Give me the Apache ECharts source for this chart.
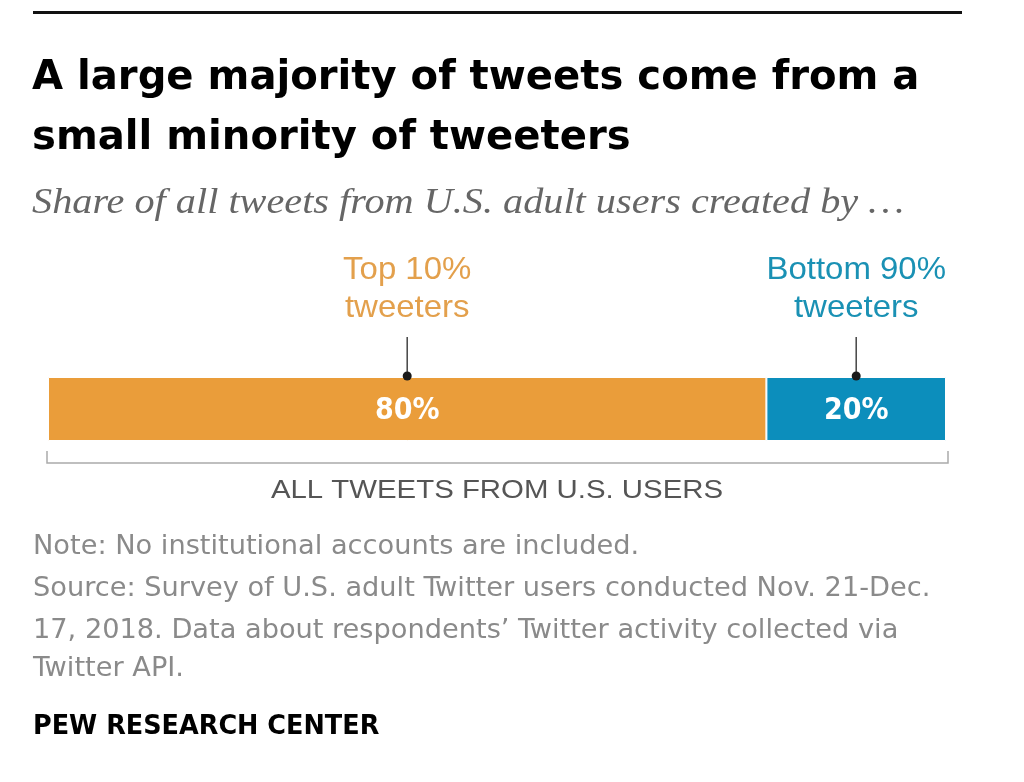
<!DOCTYPE html>
<html><head><meta charset="utf-8">
<script src="https://cdn.jsdelivr.net/npm/echarts@6/dist/echarts.min.js"></script>
<style>html,body{margin:0;padding:0;background:#fff}#c{width:1024px;height:782px}</style>
</head><body><div id="c"></div>
<script>
const categories = ['All tweets from U.S. users'];
const segmentNames = ['Top 10%\ntweeters', 'Bottom 90%\ntweeters'];
const segmentValues = [80, 20];
const segmentColors = ['#EA9D3A', '#0C8EBC'];
const labelColors = ['#E3A04C', '#1A91B4'];

const chart = echarts.init(document.getElementById('c'), null, {renderer: 'canvas'});

const narrow = '"DejaVu Sans Condensed","Liberation Sans Narrow","Liberation Sans",sans-serif';
const sans = '"Liberation Sans","Noto Sans",sans-serif';

let acc = 0;
const leaderData = segmentValues.map((v, i) => { const s = acc; acc += v; return [s, acc, i]; });

const barSeries = segmentValues.map((v, i) => ({
  type: 'bar', stack: 'total', name: segmentNames[i],
  data: [v], barWidth: '100%',
  itemStyle: {color: segmentColors[i], borderColor: '#fff', borderWidth: 1},
  label: {show: true, position: 'inside', formatter: '{c}%', color: '#fff',
          fontFamily: narrow, fontWeight: 'bold', fontSize: 30, offset: [0, 2]},
  silent: true
}));

function txt(text, x, y, font, fill, sx, align) {
  return {type: 'text', x: x, y: y, scaleX: sx || 1,
    style: {text: text, x: 0, y: 0, align: align || 'left', verticalAlign: 'middle', font: font, fill: fill}};
}

const option = {
  animation: false,
  grid: {left: 48, right: 78, top: 377, height: 64},
  xAxis: {type: 'value', min: 0, max: 100, show: false},
  yAxis: {type: 'category', data: categories, show: false},
  series: [...barSeries, {
    type: 'custom', data: leaderData, silent: true, z: 10,
    renderItem: function (params, api) {
      const mid = (api.value(0) + api.value(1)) / 2;
      const i = api.value(2);
      const p = api.coord([mid, 0]);
      const h = api.size([0, 1])[1];
      const top = p[1] - h / 2;
      return {type: 'group', children: [
        {type: 'line', shape: {x1: p[0], y1: top - 40, x2: p[0], y2: top - 1}, style: {stroke: '#444', lineWidth: 1.5}},
        {type: 'circle', shape: {cx: p[0], cy: top - 1, r: 4.5}, style: {fill: '#1a1a1a'}},
        {type: 'text', x: p[0], y: top - 88, scaleX: 1.03,
          style: {text: segmentNames[i], x: 0, y: 0, align: 'center', verticalAlign: 'middle',
          fill: labelColors[i], font: '32px ' + sans, lineHeight: 38}}
      ]};
    }
  }],
  graphic: [
    {type: 'rect', shape: {x: 33, y: 11, width: 929, height: 3}, style: {fill: '#111'}},
    txt('A large majority of tweets come from a', 32, 78, 'bold 41px ' + narrow, '#000', 1.088),
    txt('small minority of tweeters', 32, 138, 'bold 41px ' + narrow, '#000', 1.088),
    txt('Share of all tweets from U.S. adult users created by \u2026', 32, 204, 'italic 35px "Liberation Serif","DejaVu Serif",serif', '#666', 1.15),
    {type: 'polyline', shape: {points: [[47, 451], [47, 463], [948, 463], [948, 451]]}, style: {stroke: '#aaa', lineWidth: 1.5, fill: null}},
    txt('ALL TWEETS FROM U.S. USERS', 497, 491, '26px ' + sans, '#555', 1.13, 'center'),
    txt('Note: No institutional accounts are included.', 33, 547, '27px ' + narrow, '#8a8a8a', 1.12),
    txt('Source: Survey of U.S. adult Twitter users conducted Nov. 21-Dec.', 33, 589, '27px ' + narrow, '#8a8a8a', 1.12),
    txt('17, 2018. Data about respondents\u2019 Twitter activity collected via', 33, 631, '27px ' + narrow, '#8a8a8a', 1.12),
    txt('Twitter API.', 33, 669, '27px ' + narrow, '#8a8a8a', 1.12),
    txt('PEW RESEARCH CENTER', 33, 727, 'bold 27px ' + narrow, '#000', 1.05)
  ]
};
chart.setOption(option);
</script>
</body></html>
